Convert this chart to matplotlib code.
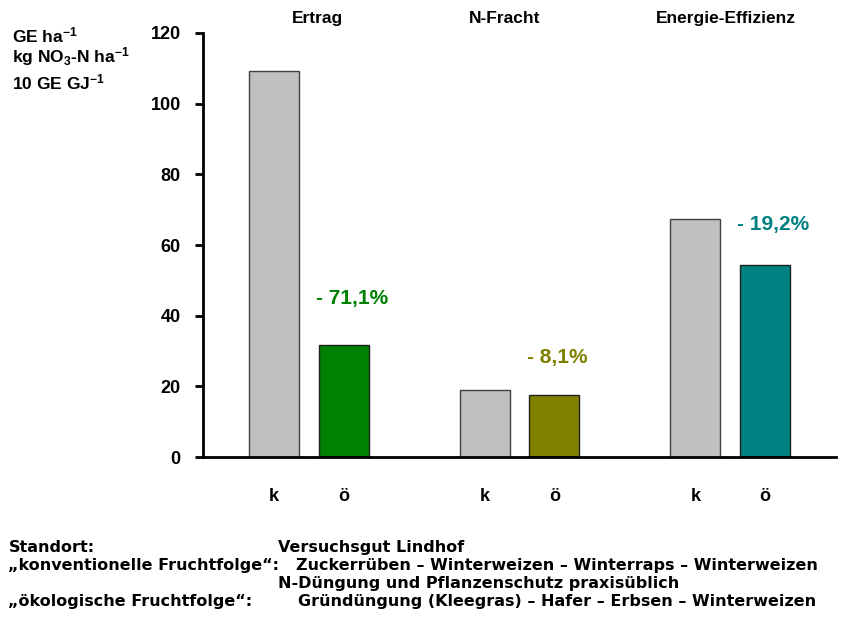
import matplotlib
matplotlib.use("Agg")
import matplotlib.pyplot as plt
import numpy as np

plt.rcParams['font.family'] = ['Liberation Sans', 'DejaVu Sans']
plt.rcParams['font.weight'] = 'bold'
plt.rcParams['mathtext.fontset'] = 'custom'
plt.rcParams['mathtext.rm'] = 'Liberation Sans:bold'
plt.rcParams['mathtext.bf'] = 'Liberation Sans:bold'
plt.rcParams['mathtext.default'] = 'bf'

# data
groups = ["Ertrag", "N-Fracht", "Energie-Effizienz"]
konv = [109.2, 19.0, 67.4]
oeko = [31.6, 17.5, 54.4]
oeko_colors = ["#008000", "#808000", "#008080"]
pct_labels = ["- 71,1%", "- 8,1%", "- 19,2%"]
bar_labels = ["k", "ö"]
yticks = [0, 20, 40, 60, 80, 100, 120]

fig = plt.figure(figsize=(8.42, 6.27), dpi=100)
ax = fig.add_axes([0.2411, 0.2711, 0.7518, 0.6763])

x = np.arange(len(groups))
off = 0.165
w = 0.237
ax.bar(x - off, konv, width=w, color="#C0C0C0", edgecolor="#404040", linewidth=1)
ax.bar(x + off, oeko, width=w, color=oeko_colors, edgecolor="#202020", linewidth=1)

# percentage labels above the organic bars
pct_off = [34, 27, 29]
pct_dx = [6, 2, 6]
for xi, v, lab, c, po, dx in zip(x, oeko, pct_labels, oeko_colors, pct_off, pct_dx):
    ax.annotate(lab, xy=(xi + off, v), xytext=(dx, po), textcoords="offset points",
                ha="center", va="center", fontsize=15, fontweight="bold", color=c)

# group titles
title_dx = [0.04, -0.07, -0.02]
for xi, g, d in zip(x, groups, title_dx):
    ax.text(xi + d, 1.034, g, transform=ax.get_xaxis_transform(), ha="center", va="center",
            fontsize=12.5, fontweight="bold")

ax.set_xlim(-0.502, 2.502)
ax.set_ylim(0, 120)
ax.set_yticks(yticks)
ax.set_yticklabels([str(t) for t in yticks], fontsize=13, fontweight="bold")
xt = np.concatenate([x - off, x + off])
ax.set_xticks(xt)
ax.set_xticklabels([bar_labels[0]] * 3 + [bar_labels[1]] * 3, fontsize=13, fontweight="bold")
ax.tick_params(axis="x", length=0, pad=22)
ax.tick_params(axis="y", length=6, width=2, pad=10, direction="out")

for s in ["top", "right"]:
    ax.spines[s].set_visible(False)
ax.spines["left"].set_linewidth(2)
ax.spines["bottom"].set_linewidth(2)

# y-axis unit labels
uf = dict(fontsize=12.5, fontweight="bold", va="baseline")
fig.text(0.014, 0.933, "GE ha$^{-1}$", **uf)
fig.text(0.014, 0.900, "kg NO$_3$-N ha$^{-1}$", **uf)
fig.text(0.014, 0.857, "10 GE GJ$^{-1}$", **uf)

# footer
ff = dict(fontsize=11.5, fontweight="bold", family="DejaVu Sans", va="center")
fig.text(0.010, 0.126, "Standort:", **ff)
fig.text(0.330, 0.126, "Versuchsgut Lindhof", **ff)
fig.text(0.010, 0.098, "„konventionelle Fruchtfolge“:", **ff)
fig.text(0.352, 0.098, "Zuckerrüben – Winterweizen – Winterraps – Winterweizen", **ff)
fig.text(0.330, 0.069, "N-Düngung und Pflanzenschutz praxisüblich", **ff)
fig.text(0.010, 0.041, "„ökologische Fruchtfolge“:", **ff)
fig.text(0.354, 0.041, "Gründüngung (Kleegras) – Hafer – Erbsen – Winterweizen", **ff)

fig.savefig("out.png", dpi=100)
